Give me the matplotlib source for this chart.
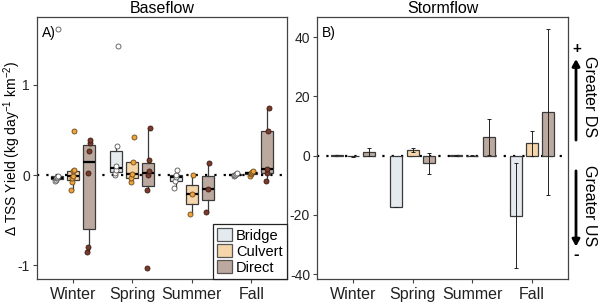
import numpy as np
import matplotlib
matplotlib.use('Agg')
import matplotlib.pyplot as plt
from matplotlib.patches import Patch, FancyArrowPatch

plt.rcParams['font.family'] = ['Liberation Sans', 'DejaVu Sans']
plt.rcParams['mathtext.fontset'] = 'custom'
plt.rcParams['mathtext.rm'] = 'Liberation Sans'
plt.rcParams['mathtext.it'] = 'Liberation Sans:italic'

SEASONS = ['Winter', 'Spring', 'Summer', 'Fall']
TYPES = ['Bridge', 'Culvert', 'Direct']

# baseflow: site values per season (kg day-1 km-2)
base_bridge = [[-0.06, -0.05, -0.03, -0.03, -0.02, -0.01, 1.62],
               [0.0, 0.02, 0.06, 0.10, 0.32, 1.43],
               [-0.14, -0.06, -0.02, 0.0, 0.06],
               [-0.01, 0.0, 0.0, 0.01, 0.02]]
base_culvert = [[-0.17, -0.08, -0.03, -0.01, 0.04, 0.06, 0.49],
                [-0.08, -0.03, 0.01, 0.14, 0.42],
                [-0.43, -0.21, 0.0],
                [-0.01, 0.01, 0.02, 0.03, 0.05]]
base_direct = [[-0.85, -0.80, 0.02, 0.27, 0.35, 0.39],
               [-1.03, -0.16, 0.0, 0.04, 0.17, 0.52],
               [-0.41, -0.15, 0.13],
               [-0.07, 0.02, 0.07, 0.49, 0.74]]

# stormflow: mean and standard error per season
storm_bridge_mean = [0.2, -17.2, 0.1, -20.2]
storm_bridge_se = [0.1, 0.0, 0.1, 17.8]
storm_culvert_mean = [-0.2, 2.0, 0.05, 4.2]
storm_culvert_se = [0.2, 0.6, 0.1, 4.2]
storm_direct_mean = [1.3, -2.6, 6.3, 14.8]
storm_direct_se = [1.4, 3.6, 6.2, 27.9]

fills = {'Bridge': '#e4eaee', 'Culvert': '#f5d6aa', 'Direct': '#bba9a0'}
dots = {'Bridge': '#ffffff', 'Culvert': '#f0a33a', 'Direct': '#7a3a2c'}
dot_edge = {'Bridge': '#555555', 'Culvert': '#6b4a20', 'Direct': '#3a1c14'}
edge = '#3a3a3a'
offsets = [-0.27, 0.0, 0.27]
width = 0.2

fig = plt.figure(figsize=(6.0, 3.04), dpi=100)
axA = fig.add_axes([0.0617, 0.0822, 0.4166, 0.8620])
axB = fig.add_axes([0.5283, 0.0822, 0.4184, 0.8620])

x = np.arange(1, len(SEASONS) + 1)


def style_axes(ax):
    for s in ax.spines.values():
        s.set_color('#444444')
        s.set_linewidth(0.9)
    ax.tick_params(length=3, width=0.8, color='#444444', labelcolor='#222222')
    ax.tick_params(axis='x', labelsize=11.5, pad=3)
    ax.tick_params(axis='y', labelsize=10, pad=2)
    ax.set_xticks(x)
    ax.set_xticklabels(SEASONS)
    ax.set_xlim(0.4, 4.6)


# ---- panel A: boxplots with points
axA.axhline(0, color='black', lw=1.6, ls=(0, (1, 3.2)), zorder=1)
for k, (name, data) in enumerate(zip(TYPES, [base_bridge, base_culvert, base_direct])):
    pos = x + offsets[k]
    axA.boxplot(data, positions=pos, widths=width, patch_artist=True,
                showfliers=False, showcaps=False, manage_ticks=False,
                boxprops=dict(facecolor=fills[name], edgecolor=edge, linewidth=0.9),
                whiskerprops=dict(color=edge, linewidth=0.9),
                medianprops=dict(color='black', linewidth=1.6),
                zorder=2)
    for p, vals in zip(pos, data):
        jit = np.linspace(-0.025, 0.025, len(vals))
        axA.scatter(p + jit, vals, s=13, color=dots[name], edgecolor=dot_edge[name],
                    linewidth=0.6, zorder=4)

axA.set_ylim(-1.15, 1.75)
axA.set_yticks([-1, 0, 1])
axA.set_yticklabels(['-1', '0', '1'])
style_axes(axA)
axA.set_title('Baseflow', fontsize=11.5, pad=3)
axA.set_ylabel(r'$\Delta$ TSS Yield (kg day$^{-1}$ km$^{-2}$)', fontsize=10)
axA.yaxis.set_label_coords(-0.058, 0.5)
axA.text(0.02, 0.965, 'A)', transform=axA.transAxes, ha='left', va='top', fontsize=10)
handles = [Patch(facecolor=fills[t], edgecolor='#555555', linewidth=0.9, label=t) for t in TYPES]
leg = axA.legend(handles=handles, loc='lower right', borderaxespad=0.0, fontsize=10.5,
                 handlelength=1.0, handleheight=1.0, handletextpad=0.3, labelspacing=0.1,
                 borderpad=0.3, fancybox=False, framealpha=1)
leg.get_frame().set_edgecolor('#222222')
leg.get_frame().set_linewidth(0.9)

# ---- panel B: mean bars with error bars
axB.axhline(0, color='black', lw=1.6, ls=(0, (1, 3.2)), zorder=1)
storm = [(storm_bridge_mean, storm_bridge_se),
         (storm_culvert_mean, storm_culvert_se),
         (storm_direct_mean, storm_direct_se)]
for k, (name, (m, se)) in enumerate(zip(TYPES, storm)):
    pos = x + offsets[k]
    axB.bar(pos, m, width=width, color=fills[name], edgecolor=edge, linewidth=0.9, zorder=2)
    axB.errorbar(pos, m, yerr=se, fmt='none', ecolor='#222222', elinewidth=0.7,
                 capsize=1.6, capthick=0.7, zorder=3)

axB.set_ylim(-41.6, 46.8)
axB.set_yticks([-40, -20, 0, 20, 40])
axB.set_yticklabels(['-40', '-20', '0', '20', '40'])
style_axes(axB)
axB.set_title('Stormflow', fontsize=11.5, pad=3)
axB.text(0.02, 0.965, 'B)', transform=axB.transAxes, ha='left', va='top', fontsize=10)

# ---- direction arrows on the right
fig.add_artist(FancyArrowPatch(
    (0.960, 0.530), (0.960, 0.815), transform=fig.transFigure,
    arrowstyle='-|>,head_length=4,head_width=2.2', lw=2.0, color='black', mutation_scale=1))
fig.add_artist(FancyArrowPatch(
    (0.960, 0.447), (0.960, 0.180), transform=fig.transFigure,
    arrowstyle='-|>,head_length=4,head_width=2.2', lw=2.0, color='black', mutation_scale=1))
fig.text(0.961, 0.838, '+', ha='center', va='center', fontsize=11, fontweight='bold')
fig.text(0.961, 0.163, '-', ha='center', va='center', fontsize=12, fontweight='bold')
fig.text(0.982, 0.684, 'Greater DS', rotation=-90, ha='center', va='center', fontsize=11.5)
fig.text(0.982, 0.324, 'Greater US', rotation=-90, ha='center', va='center', fontsize=11.5)

fig.savefig('out.png', dpi=100)
